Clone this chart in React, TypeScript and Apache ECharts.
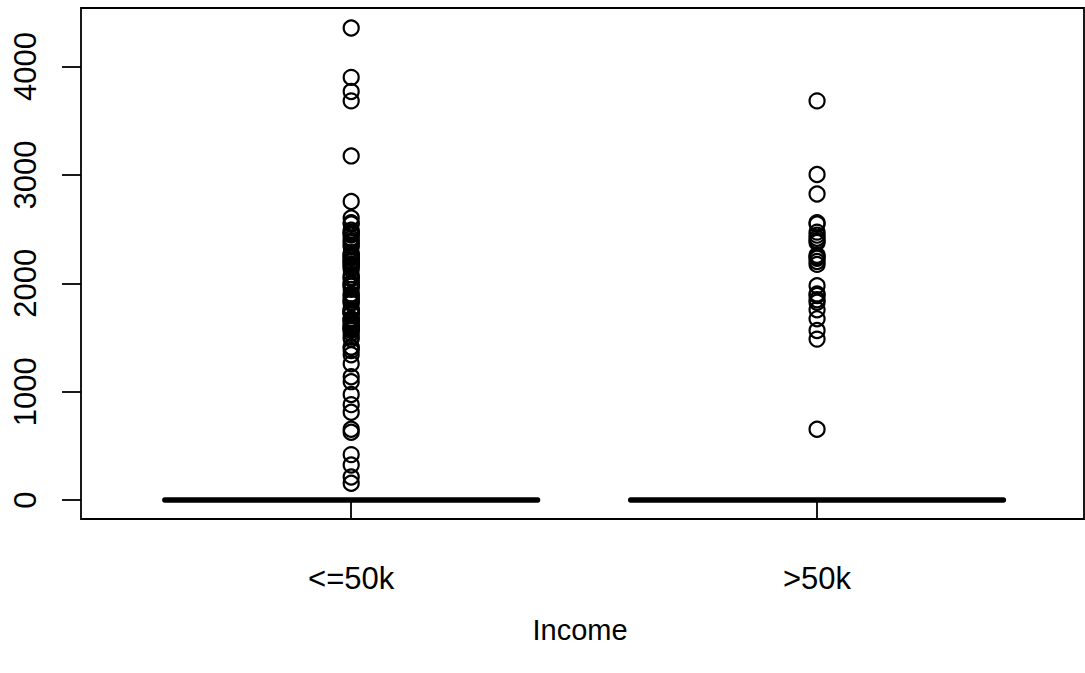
import React, { useEffect, useRef } from "react";
import * as echarts from "echarts";

const categories = ["<=50k", ">50k"];
// five-number summaries [min, q1, median, q3, max] per category
const boxStats = [
  [0, 0, 0, 0, 0],
  [0, 0, 0, 0, 0],
];
const outliersLow = [
  4356, 3900, 3770, 3683, 3175, 2754, 2603, 2559, 2547, 2489, 2472, 2467, 2457, 2444, 2415,
  2392, 2377, 2352, 2339, 2282, 2267, 2258, 2246, 2238, 2231, 2206, 2205, 2201, 2179, 2174,
  2163, 2149, 2129, 2080, 2057, 2051, 2042, 2002, 2001, 1980, 1977, 1974, 1944, 1902, 1887,
  1876, 1848, 1844, 1825, 1816, 1762, 1755, 1741, 1740, 1735, 1726, 1721, 1719, 1672, 1669,
  1668, 1651, 1648, 1628, 1617, 1602, 1594, 1590, 1579, 1573, 1564, 1539, 1504, 1485, 1411,
  1408, 1380, 1340, 1258, 1138, 1092, 974, 880, 810, 653, 625, 419, 323, 213, 155,
];
const outliersHigh = [
  3683, 3004, 2824, 2559, 2547, 2472, 2444, 2415, 2392, 2377, 2258, 2246, 2231, 2201, 2174,
  1977, 1902, 1887, 1848, 1825, 1755, 1672, 1564, 1485, 653,
];
const yTicks = [0, 1000, 2000, 3000, 4000];
const xTicks = [1, 2];
const xTitle = "Income";

const FONT = "Liberation Sans, Arial, Helvetica, sans-serif";

export default function App() {
  const ref = useRef<HTMLDivElement>(null);
  useEffect(() => {
    if (!ref.current) return;
    const chart = echarts.init(ref.current, undefined, { renderer: "svg" });
    const outlierData: number[][] = [];
    outliersLow.forEach((v) => outlierData.push([1, v]));
    outliersHigh.forEach((v) => outlierData.push([2, v]));
    const boxData = boxStats.map((s, i) => [i + 1, ...s]);

    chart.setOption({
      animation: false,
      backgroundColor: "#ffffff",
      grid: {
        left: 81,
        right: 1,
        top: 8,
        bottom: 154,
        show: true,
        borderColor: "#000",
        borderWidth: 1.8,
        backgroundColor: "transparent",
      },
      xAxis: {
        type: "value",
        min: 0.42,
        max: 2.573,
        splitLine: { show: false },
        axisLine: { show: false },
        axisTick: {
          show: true,
          inside: false,
          length: 19,
          customValues: xTicks,
          lineStyle: { color: "#000", width: 1.8 },
        },
        axisLabel: {
          customValues: xTicks,
          formatter: (v: number) => categories[Math.round(v) - 1] ?? "",
          color: "#000",
          fontFamily: FONT,
          fontSize: 31,
          margin: 44,
          verticalAlign: "top",
        },
      },
      yAxis: {
        type: "value",
        min: -175,
        max: 4540,
        splitLine: { show: false },
        axisLine: { show: false },
        axisTick: {
          show: true,
          length: 19,
          customValues: yTicks,
          lineStyle: { color: "#000", width: 1.8 },
        },
        axisLabel: {
          customValues: yTicks,
          formatter: (v: number) => String(v),
          rotate: 90,
          color: "#000",
          fontFamily: FONT,
          fontSize: 31,
          margin: 40,
        },
      },
      graphic: [
        {
          type: "text",
          x: 580,
          y: 630,
          style: {
            text: xTitle,
            fill: "#000",
            font: `29px ${FONT}`,
            textAlign: "center",
            textVerticalAlign: "middle",
          },
        },
      ],
      series: [
        {
          type: "custom",
          data: boxData,
          renderItem: (params: any, api: any) => {
            const x = api.value(0);
            const half = 0.4;
            const pMin = api.coord([x, api.value(1)]);
            const pQ1 = api.coord([x - half, api.value(2)]);
            const pQ3 = api.coord([x + half, api.value(4)]);
            const pMax = api.coord([x, api.value(5)]);
            const pMedL = api.coord([x - half, api.value(3)]);
            const pMedR = api.coord([x + half, api.value(3)]);
            return {
              type: "group",
              children: [
                {
                  type: "rect",
                  shape: {
                    x: pQ1[0],
                    y: pQ3[1],
                    width: pQ3[0] - pQ1[0],
                    height: pQ1[1] - pQ3[1],
                  },
                  style: { fill: "none", stroke: "#000", lineWidth: 1.8 },
                },
                {
                  type: "line",
                  shape: { x1: pMin[0], y1: pMin[1], x2: pMax[0], y2: pMax[1] },
                  style: { stroke: "#000", lineWidth: 1.8 },
                },
                {
                  type: "line",
                  shape: { x1: pMedL[0], y1: pMedL[1], x2: pMedR[0], y2: pMedR[1] },
                  style: { stroke: "#000", lineWidth: 5.5, lineCap: "round" },
                },
              ],
            };
          },
        },
        {
          type: "scatter",
          data: outlierData,
          symbol: "circle",
          symbolSize: 15,
          itemStyle: { color: "transparent", borderColor: "#000", borderWidth: 2.2, opacity: 1 },
        },
      ],
    });
    return () => chart.dispose();
  }, []);
  return <div ref={ref} style={{ width: 1085, height: 673, position: "absolute", left: 0, top: 0 }} />;
}
